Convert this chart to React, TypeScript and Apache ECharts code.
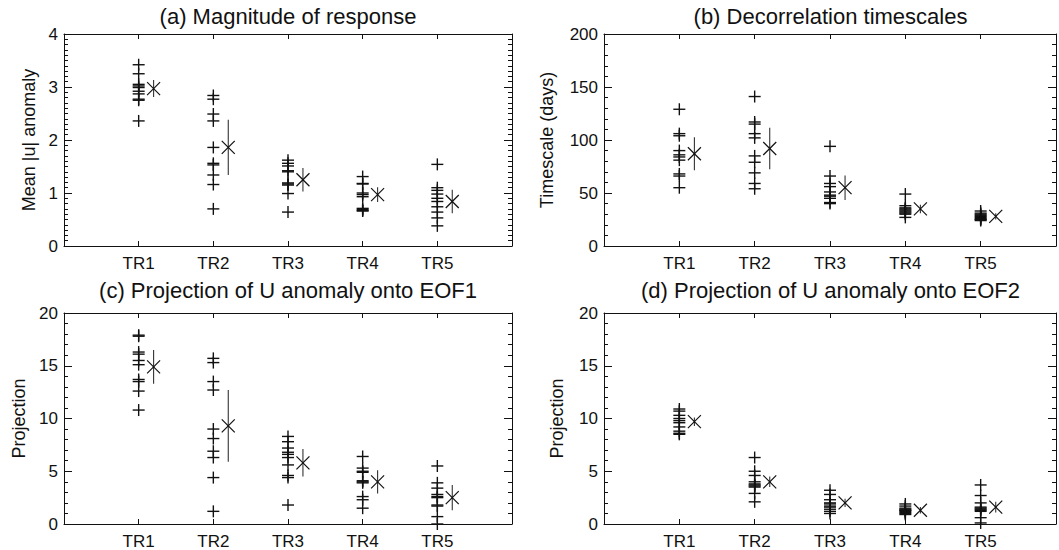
import React, { useEffect, useRef } from 'react';
import * as echarts from 'echarts';

// ---------------- data ----------------
const categories = ['TR1', 'TR2', 'TR3', 'TR4', 'TR5'];

// (a) Magnitude of response
const magnitudeMembers = [
  [3.42, 3.25, 3.05, 3.02, 2.99, 2.92, 2.87, 2.77, 2.75, 2.36],
  [2.84, 2.77, 2.49, 2.36, 1.86, 1.56, 1.53, 1.34, 1.16, 0.7],
  [1.62, 1.56, 1.51, 1.42, 1.4, 1.19, 1.17, 1.15, 0.99, 0.64],
  [1.31, 1.18, 1.17, 1.0, 0.97, 0.93, 0.71, 0.69, 0.67, 0.66],
  [1.54, 1.1, 1.05, 0.98, 0.9, 0.84, 0.74, 0.64, 0.53, 0.38],
];
const magnitudeMeans = [2.97, 1.86, 1.25, 0.97, 0.84];
const magnitudeErrors = [0.16, 0.52, 0.22, 0.14, 0.22];

// (b) Decorrelation timescales (days)
const timescaleMembers = [
  [129, 106, 104, 90, 86, 84, 81, 68, 66, 55],
  [141, 117, 115, 106, 102, 85, 79, 69, 59, 54],
  [94, 66, 59, 56, 51, 48, 47, 45, 41, 40],
  [49, 38, 36, 35, 34, 33, 32, 31, 30, 27],
  [33, 31, 30, 29, 28, 27, 26, 25, 25, 24],
];
const timescaleMeans = [87, 92, 55, 35, 28];
const timescaleErrors = [15.5, 19.5, 11.5, 4, 3];

// (c) Projection onto EOF1
const eof1Members = [
  [17.9, 17.8, 16.3, 16.1, 15.5, 15.1, 13.7, 13.5, 12.6, 10.8],
  [15.7, 15.3, 13.5, 12.7, 9.0, 8.1, 6.9, 6.3, 4.4, 1.2],
  [8.3, 7.8, 7.2, 6.8, 6.6, 6.3, 5.6, 4.6, 4.4, 1.8],
  [6.4, 5.3, 5.0, 4.9, 4.1, 4.0, 3.9, 2.6, 2.3, 1.5],
  [5.5, 3.9, 3.4, 2.8, 2.6, 2.5, 1.8, 1.7, 0.7, 0.0],
];
const eof1Means = [14.9, 9.3, 5.8, 4.0, 2.5];
const eof1Errors = [1.6, 3.4, 1.3, 1.1, 1.2];

// (d) Projection onto EOF2
const eof2Members = [
  [10.9, 10.7, 10.3, 10.0, 9.8, 9.6, 9.2, 8.8, 8.6, 8.5],
  [6.3, 5.0, 4.6, 4.0, 3.8, 3.7, 3.6, 3.5, 2.9, 2.1],
  [3.2, 2.8, 2.3, 2.0, 1.9, 1.7, 1.6, 1.4, 1.2, 1.0],
  [1.9, 1.7, 1.5, 1.4, 1.3, 1.3, 1.2, 1.1, 1.0, 0.9],
  [3.7, 2.7, 2.0, 1.6, 1.5, 1.4, 1.3, 1.2, 0.6, 0.1],
];
const eof2Means = [9.7, 4.0, 2.0, 1.3, 1.6];
const eof2Errors = [0.4, 0.5, 0.4, 0.3, 0.5];

// ---------------- layout / style ----------------
const FONT = '"Liberation Sans", Arial, Helvetica, sans-serif';
const INK = '#111';
const MEAN_OFFSET = 0.2;
const PLUS_HALF = 6;
const CROSS_HALF = 6.5;

const panels = [
  {
    title: '(a) Magnitude of response', yName: 'Mean |u| anomaly',
    min: 0, max: 4, interval: 1, minorSplit: 10,
    members: magnitudeMembers, means: magnitudeMeans, errors: magnitudeErrors,
    left: 64, top: 34, width: 448, height: 212, nameGap: 26, titleTop: 5,
  },
  {
    title: '(b) Decorrelation timescales', yName: 'Timescale (days)',
    min: 0, max: 200, interval: 50, minorSplit: 5,
    members: timescaleMembers, means: timescaleMeans, errors: timescaleErrors,
    left: 604, top: 34, width: 453, height: 212, nameGap: 48, titleTop: 5,
  },
  {
    title: '(c) Projection of U anomaly onto EOF1', yName: 'Projection',
    min: 0, max: 20, interval: 5, minorSplit: 5,
    members: eof1Members, means: eof1Means, errors: eof1Errors,
    left: 64, top: 313, width: 448, height: 211, nameGap: 36, titleTop: 279,
  },
  {
    title: '(d) Projection of U anomaly onto EOF2', yName: 'Projection',
    min: 0, max: 20, interval: 5, minorSplit: 5,
    members: eof2Members, means: eof2Means, errors: eof2Errors,
    left: 604, top: 313, width: 453, height: 211, nameGap: 38, titleTop: 279,
  },
];

const lineStyle = { color: INK, width: 1 };

function plusItem(params: any, api: any) {
  const p = api.coord([api.value(0), api.value(1)]);
  const style = { stroke: INK, lineWidth: 1.4 };
  return {
    type: 'group',
    children: [
      { type: 'line', shape: { x1: p[0] - PLUS_HALF, y1: p[1], x2: p[0] + PLUS_HALF, y2: p[1] }, style },
      { type: 'line', shape: { x1: p[0], y1: p[1] - PLUS_HALF, x2: p[0], y2: p[1] + PLUS_HALF }, style },
    ],
  };
}

function meanItem(params: any, api: any) {
  const x = api.value(0);
  const m = api.value(1);
  const e = api.value(2);
  const c = api.coord([x, m]);
  const hi = api.coord([x, m + e]);
  const lo = api.coord([x, m - e]);
  const style = { stroke: INK, lineWidth: 1.2 };
  return {
    type: 'group',
    children: [
      { type: 'line', shape: { x1: hi[0], y1: hi[1], x2: lo[0], y2: lo[1] }, style: { stroke: '#333', lineWidth: 1.1 } },
      { type: 'line', shape: { x1: c[0] - CROSS_HALF, y1: c[1] - CROSS_HALF, x2: c[0] + CROSS_HALF, y2: c[1] + CROSS_HALF }, style },
      { type: 'line', shape: { x1: c[0] - CROSS_HALF, y1: c[1] + CROSS_HALF, x2: c[0] + CROSS_HALF, y2: c[1] - CROSS_HALF }, style },
    ],
  };
}

function buildOption() {
  const grid: any[] = [];
  const xAxis: any[] = [];
  const yAxis: any[] = [];
  const series: any[] = [];
  const title: any[] = [];

  panels.forEach((p, i) => {
    grid.push({ left: p.left, top: p.top, width: p.width, height: p.height, containLabel: false });
    title.push({
      text: p.title,
      left: p.left + p.width / 2,
      top: p.titleTop,
      textAlign: 'center',
      padding: 0,
      textStyle: { fontSize: 22, fontWeight: 'normal', color: INK, fontFamily: FONT },
    });
    const xBase = {
      gridIndex: i, type: 'value', min: 0, max: categories.length + 1, interval: 1,
      splitLine: { show: false },
      axisLine: { show: true, onZero: false, lineStyle },
      axisTick: { show: true, inside: true, length: 5, lineStyle },
    };
    xAxis.push({
      ...xBase, position: 'bottom',
      axisLabel: {
        show: true, margin: 9, fontSize: 17, color: INK, fontFamily: FONT,
        formatter: (v: number) => (v >= 1 && v <= categories.length ? categories[v - 1] : ''),
      },
    });
    xAxis.push({ ...xBase, position: 'top', axisLabel: { show: false } });

    const yBase = {
      gridIndex: i, type: 'value', min: p.min, max: p.max, interval: p.interval,
      splitLine: { show: false },
      axisLine: { show: true, onZero: false, lineStyle },
      axisTick: { show: true, inside: true, length: 8, lineStyle },
      minorTick: { show: true, splitNumber: p.minorSplit, length: 4, lineStyle },
      minorSplitLine: { show: false },
    };
    yAxis.push({
      ...yBase, position: 'left',
      name: p.yName, nameLocation: 'middle', nameGap: p.nameGap,
      nameTextStyle: { fontSize: 18, color: INK, fontFamily: FONT },
      axisLabel: { show: true, margin: 6, fontSize: 17, color: INK, fontFamily: FONT },
    });
    yAxis.push({ ...yBase, position: 'right', axisLabel: { show: false } });

    const memberData: number[][] = [];
    p.members.forEach((vals, ci) => vals.forEach((v) => memberData.push([ci + 1, v])));
    series.push({
      type: 'custom', name: 'members ' + i, xAxisIndex: 2 * i, yAxisIndex: 2 * i,
      renderItem: plusItem, data: memberData, encode: { x: 0, y: 1 }, silent: true,
    });
    const meanData = p.means.map((m, ci) => [ci + 1 + MEAN_OFFSET, m, p.errors[ci]]);
    series.push({
      type: 'custom', name: 'means ' + i, xAxisIndex: 2 * i, yAxisIndex: 2 * i,
      renderItem: meanItem, data: meanData, encode: { x: 0, y: 1 }, silent: true,
    });
  });

  return {
    animation: false,
    backgroundColor: '#fff',
    textStyle: { fontFamily: FONT },
    title, grid, xAxis, yAxis, series,
  };
}

export default function App() {
  const ref = useRef<HTMLDivElement>(null);
  useEffect(() => {
    if (!ref.current) return;
    const chart = echarts.init(ref.current, undefined, { renderer: 'svg' });
    chart.setOption(buildOption() as any);
    return () => chart.dispose();
  }, []);
  return (
    <div
      ref={ref}
      style={{ position: 'fixed', left: 0, top: 0, width: 1059, height: 550, background: '#fff' }}
    />
  );
}
